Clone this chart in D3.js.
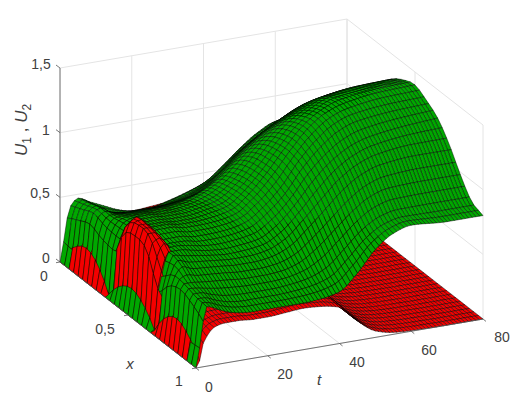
<!DOCTYPE html>
<html><head><meta charset="utf-8">
<script src="https://cdn.jsdelivr.net/npm/d3@7"></script>
<style>html,body{margin:0;padding:0;background:#fff}svg{display:block}text{font-family:"Liberation Sans",Arial,sans-serif;fill:#404040}</style>
</head><body><svg id="c" width="526" height="404"></svg>
<script>
// Surface heights at these knots. The fine mesh drawn below is
// a smooth curve through this table (the reference mesh is too dense to read point by point).
const tKnots = [0,1,2,3,5,8,12,16,20,25,30,35,40,45,50,55,60,70,80];
const xKnots = [0,1/12,2/12,3/12,4/12,5/12,6/12,7/12,8/12,9/12,10/12,11/12,1];
const greenU = [
[0,0,0,0,0,0,0,0,0,0,0,0,0],
[.15,.14,.14,.10,.02,.15,.20,.15,.02,.10,.14,.14,.15],
[.33,.38,.42,.38,.36,.38,.34,.30,.30,.42,.46,.42,.35],
[.42,.46,.50,.47,.46,.46,.42,.40,.42,.50,.50,.47,.46],
[.47,.50,.53,.53,.55,.56,.55,.54,.60,.58,.50,.47,.44],
[.43,.44,.48,.53,.58,.60,.62,.60,.60,.55,.49,.44,.40],
[.38,.39,.46,.53,.58,.60,.62,.60,.58,.54,.48,.41,.37],
[.33,.37,.46,.53,.57,.59,.60,.58,.56,.53,.47,.40,.36],
[.30,.37,.46,.53,.57,.59,.60,.58,.55,.52,.46,.40,.36],
[.30,.38,.47,.55,.59,.61,.61,.59,.56,.52,.46,.40,.36],
[.33,.41,.50,.60,.63,.64,.64,.62,.58,.54,.47,.41,.36],
[.37,.46,.57,.68,.72,.74,.74,.71,.66,.60,.51,.43,.37],
[.42,.54,.68,.80,.86,.88,.88,.84,.79,.72,.60,.48,.40],
[.52,.66,.80,.92,1.0,1.04,1.05,1.02,.95,.85,.72,.60,.52],
[.64,.76,.90,1.02,1.12,1.18,1.20,1.16,1.08,.98,.84,.73,.68],
[.74,.84,.98,1.10,1.20,1.27,1.30,1.26,1.17,1.07,.93,.81,.78],
[.80,.90,1.04,1.16,1.26,1.33,1.35,1.31,1.22,1.12,.97,.84,.82],
[.80,.92,1.06,1.19,1.30,1.36,1.39,1.34,1.26,1.15,.98,.84,.80],
[.80,.92,1.06,1.20,1.31,1.37,1.40,1.35,1.28,1.15,.98,.84,.80]];
const redU = [
[0,0,0,0,0,0,0,0,0,0,0,0,0],
[.05,.18,.24,.18,.01,.09,.13,.09,.01,.18,.24,.18,.05],
[.20,.24,.28,.26,.30,.55,.60,.56,.33,.27,.27,.24,.18],
[.24,.27,.30,.29,.38,.62,.68,.65,.46,.31,.30,.27,.23],
[.29,.30,.32,.33,.42,.66,.68,.66,.60,.35,.33,.30,.29],
[.30,.31,.33,.35,.42,.55,.58,.56,.50,.36,.34,.32,.31],
[.31,.32,.33,.35,.40,.46,.48,.45,.40,.36,.34,.32,.31],
[.31,.32,.32,.34,.37,.41,.42,.40,.37,.35,.33,.31,.30],
[.30,.31,.31,.33,.35,.37,.38,.37,.35,.34,.33,.31,.30],
[.31,.32,.33,.34,.35,.36,.36,.36,.35,.34,.33,.32,.31],
[.32,.33,.34,.35,.35,.35,.35,.35,.35,.34,.34,.33,.32],
[.31,.32,.33,.34,.34,.34,.34,.34,.34,.33,.33,.32,.31],
[.28,.29,.30,.30,.30,.30,.30,.30,.30,.30,.29,.29,.28],
[.15,.15,.15,.15,.15,.15,.15,.15,.15,.15,.15,.15,.15],
[.05,.05,.05,.05,.05,.05,.05,.05,.05,.05,.05,.05,.05],
[.015,.015,.015,.015,.015,.015,.015,.015,.015,.015,.015,.015,.015],
[.005,.005,.005,.005,.005,.005,.005,.005,.005,.005,.005,.005,.005],
[0,0,0,0,0,0,0,0,0,0,0,0,0],
[0,0,0,0,0,0,0,0,0,0,0,0,0]];
const tTicks = [0,20,40,60,80];
const xTicks = [0,0.5,1];
const zTicks = [0,0.5,1,1.5];
const fmt = v => String(v).replace('.',',');

const tPx = d3.scaleLinear().domain([0,80]).range([0,287]);
const tPy = d3.scaleLinear().domain([0,80]).range([0,-49]);
const xPx = d3.scaleLinear().domain([0,1]).range([0,136]);
const xPy = d3.scaleLinear().domain([0,1]).range([0,106]);
const zPy = d3.scaleLinear().domain([0,1.5]).range([0,-194]);
const P = (t,x,z=0) => [60+tPx(t)+xPx(x), 262+tPy(t)+xPy(x)+zPy(z)];

const svg = d3.select('#c');
const seg = (a,b,col,w) => svg.append('line').attr('x1',a[0]).attr('y1',a[1]).attr('x2',b[0]).attr('y2',b[1]).attr('stroke',col).attr('stroke-width',w);
const GRID='#e4e4e4', AX='#555';

zTicks.forEach(z=>{ seg(P(0,0,z),P(80,0,z),GRID,1); seg(P(80,0,z),P(80,1,z),GRID,1); });
tTicks.forEach(t=>{ seg(P(t,0,0),P(t,0,1.5),GRID,1); seg(P(t,0,0),P(t,1,0),GRID,1); });
xTicks.forEach(x=>{ seg(P(80,x,0),P(80,x,1.5),GRID,1); seg(P(0,x,0),P(80,x,0),GRID,1); });

function sampleRow(xs, ys, q){
  let k = Math.min(d3.bisectRight(xs,q)-1, xs.length-2); if(k<0)k=0;
  const h=xs[k+1]-xs[k], u=(q-xs[k])/h, y0=ys[k], y1=ys[k+1];
  const sec=(y1-y0)/h;
  const isMin=i=>i>0&&i<ys.length-1&&ys[i]<ys[i-1]&&ys[i]<ys[i+1];
  const m0=(k===0||isMin(k))?1.3*sec:(ys[k+1]-ys[k-1])/(xs[k+1]-xs[k-1]);
  const m1=(k+1===ys.length-1||isMin(k+1))?1.3*sec:(ys[k+2]-ys[k])/(xs[k+2]-xs[k]);
  const u2=u*u,u3=u2*u;
  return (2*u3-3*u2+1)*y0+(u3-2*u2+u)*h*m0+(-2*u3+3*u2)*y1+(u3-u2)*h*m1;
}
function monoCol(ts, ys, q){
  const n=ts.length; let k=Math.min(d3.bisectRight(ts,q)-1,n-2); if(k<0)k=0;
  const sec=i=>(ys[i+1]-ys[i])/(ts[i+1]-ts[i]);
  const slope=i=>{ if(i===0) return sec(0); if(i===n-1) return sec(n-2);
    const a=sec(i-1),b=sec(i); if(a*b<=0) return 0; return 2*a*b/(a+b); };
  const h=ts[k+1]-ts[k],u=(q-ts[k])/h,u2=u*u,u3=u2*u;
  return (2*u3-3*u2+1)*ys[k]+(u3-2*u2+u)*h*slope(k)+(-2*u3+3*u2)*ys[k+1]+(u3-u2)*h*slope(k+1);
}
const meshT=d3.range(81), meshX=d3.range(31).map(i=>i/30);
function buildMesh(tbl){
  const rows=tbl.map(r=>meshX.map(x=>Math.max(0,sampleRow(xKnots,r,x))));
  return meshT.map(t=>meshX.map((x,j)=>Math.max(0,monoCol(tKnots,rows.map(r=>r[j]),t))));
}
const cells=[];
function addCells(mesh,fill){
  for(let i=0;i<meshT.length-1;i++)for(let j=0;j<meshX.length-1;j++){
    const c=[[i,j],[i+1,j],[i+1,j+1],[i,j+1]].map(([a,b])=>({t:meshT[a],x:meshX[b],z:mesh[a][b]}));
    cells.push({c,fill,i,j,z:d3.mean(c,p=>p.z)});
  }
}
addCells(buildMesh(redU),'#f40000');
addCells(buildMesh(greenU),'#00a800');
cells.sort((a,b)=>(b.i-a.i)||(a.j-b.j)||(a.z-b.z));
const quad=d3.line().curve(d3.curveLinearClosed);
svg.append('g').selectAll('path').data(cells).join('path')
  .attr('d',d=>quad(d.c.map(p=>P(p.t,p.x,p.z))))
  .attr('fill',d=>d.fill).attr('stroke','#000').attr('stroke-width',.45).attr('stroke-linejoin','round');

seg(P(0,0,0),P(0,0,1.5),AX,.8); seg(P(0,0,0),P(0,1,0),AX,.8); seg(P(0,1,0),P(80,1,0),AX,.8);
zTicks.forEach(z=>{const a=P(0,0,z);seg(a,[a[0]-4,a[1]-3],AX,.8);});
xTicks.forEach(x=>{const a=P(0,x,0);seg(a,[a[0]-4,a[1]+.7],AX,.8);});
tTicks.forEach(t=>{const a=P(t,1,0);seg(a,[a[0]+3,a[1]+2.4],AX,.8);});

const label=(s,x,y,o={})=>svg.append('text').attr('x',x).attr('y',y).attr('text-anchor',o.a||'middle').attr('dominant-baseline','central').attr('font-size',o.s||14).attr('font-style',o.i?'italic':null).text(s);
const zPos=[[46,258],[40,193],[46,130],[41,64]];
zTicks.forEach((z,i)=>label(fmt(z),zPos[i][0],zPos[i][1]));
const xPos=[[44,276],[105,329],[179,381]];
xTicks.forEach((x,i)=>label(fmt(x),xPos[i][0],xPos[i][1]));
const tPos=[[209,387],[285,374],[357,362],[429,350],[502,337]];
tTicks.forEach((t,i)=>label(fmt(t),tPos[i][0],tPos[i][1]));
label('x',130,363,{i:1,s:15});
label('t',319,379,{i:1,s:15});
const zl=svg.append('text').attr('transform','translate(27,156) rotate(-90)').attr('text-anchor','start').attr('font-size',17);
zl.append('tspan').attr('font-style','italic').text('U');
zl.append('tspan').attr('font-size',12).attr('dy',4).text('1');
zl.append('tspan').attr('dy',-4).text(' , ');
zl.append('tspan').attr('font-style','italic').text('U');
zl.append('tspan').attr('font-size',12).attr('dy',4).text('2');
</script></body></html>
